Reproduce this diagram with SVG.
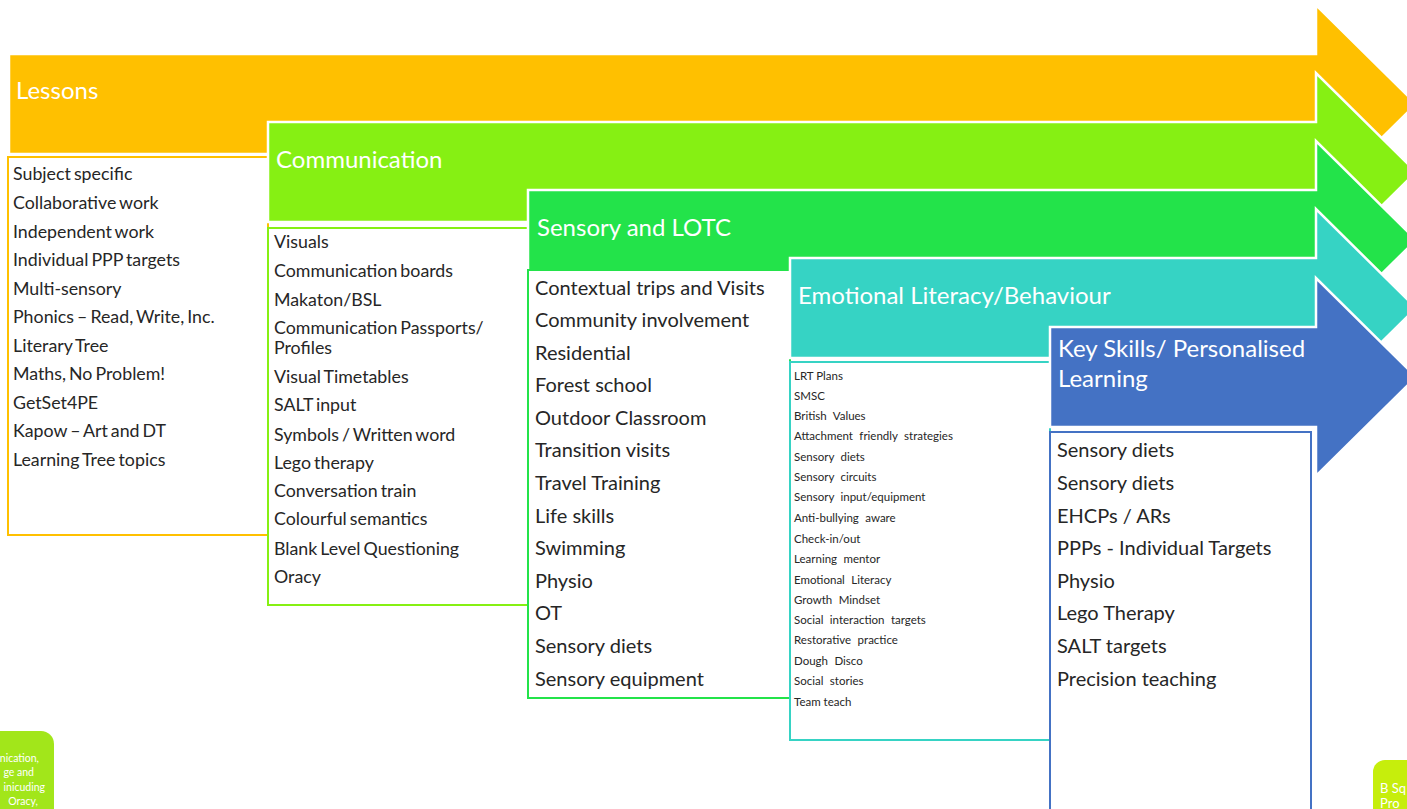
<svg xmlns="http://www.w3.org/2000/svg" width="1407" height="809" viewBox="0 0 1407 809">
<style>
.arrow{stroke:#fff;stroke-width:2.5;stroke-linejoin:miter}
.hdr{font-family:Lato,"Liberation Sans",sans-serif;fill:#fff;font-size:24px}
.box{fill:#fff;stroke-width:2}
.l16{font-family:Lato,"Liberation Sans",sans-serif;fill:#262626;font-size:17.8px;word-spacing:-1.5px}
.l20{font-family:Lato,"Liberation Sans",sans-serif;fill:#262626;font-size:20px}
.l11{font-family:Lato,"Liberation Sans",sans-serif;fill:#262626;font-size:11.5px;word-spacing:3.5px}
.sm{font-family:Lato,"Liberation Sans",sans-serif;fill:#fff;font-size:10.5px}
</style>
<rect width="1407" height="809" fill="#fff"/>
<g id="connectors"></g>
<g id="lessons">
<path class="arrow" fill="#FFC000" d="M9,54 H1316 V5 L1416,104 L1316,203 V154 H9 Z"/>
<text class="hdr" x="16" y="99">Lessons</text>
<rect class="box" stroke="#FFC000" x="8" y="157" width="260" height="378"/>
<g class="l16">
<text x="13" y="180">Subject specific</text>
<text x="13" y="209">Collaborative work</text>
<text x="13" y="238">Independent work</text>
<text x="13" y="266">Individual PPP targets</text>
<text x="13" y="295">Multi-sensory</text>
<text x="13" y="323">Phonics – Read, Write, Inc.</text>
<text x="13" y="352">Literary Tree</text>
<text x="13" y="380">Maths, No Problem!</text>
<text x="13" y="409">GetSet4PE</text>
<text x="13" y="437">Kapow – Art and DT</text>
<text x="13" y="466">Learning Tree topics</text>
</g>
</g>
<g id="communication">
<path class="arrow" fill="#86F013" d="M268,122 H1316 V73 L1416,172 L1316,271 V222 H268 Z"/>
<text class="hdr" x="276" y="168">Communication</text>
<rect class="box" stroke="#86F013" x="268" y="228" width="260" height="377"/>
<g class="l16">
<text x="274" y="248">Visuals</text>
<text x="274" y="277">Communication boards</text>
<text x="274" y="306">Makaton/BSL</text>
<text x="274" y="334">Communication Passports/</text>
<text x="274" y="354">Profiles</text>
<text x="274" y="383">Visual Timetables</text>
<text x="274" y="411">SALT input</text>
<text x="274" y="441">Symbols / Written word</text>
<text x="274" y="469">Lego therapy</text>
<text x="274" y="497">Conversation train</text>
<text x="274" y="525">Colourful semantics</text>
<text x="274" y="555">Blank Level Questioning</text>
<text x="274" y="583">Oracy</text>
</g>
</g>
<g id="sensory">
<path class="arrow" fill="#23E34A" d="M528,190 H1316 V141 L1416,240 L1316,339 V290 H528 Z"/>
<text class="hdr" x="537" y="236">Sensory and LOTC</text>
<rect class="box" stroke="#23E34A" x="528" y="270" width="262" height="428"/>
<g class="l20">
<text x="535" y="295">Contextual trips and Visits</text>
<text x="535" y="327">Community involvement</text>
<text x="535" y="360">Residential</text>
<text x="535" y="392">Forest school</text>
<text x="535" y="425">Outdoor Classroom</text>
<text x="535" y="457">Transition visits</text>
<text x="535" y="490">Travel Training</text>
<text x="535" y="523">Life skills</text>
<text x="535" y="555">Swimming</text>
<text x="535" y="588">Physio</text>
<text x="535" y="620">OT</text>
<text x="535" y="653">Sensory diets</text>
<text x="535" y="686">Sensory equipment</text>
</g>
</g>
<g id="emotional">
<path class="arrow" fill="#36D3C4" d="M790,258 H1316 V209 L1416,308 L1316,407 V358 H790 Z"/>
<text class="hdr" x="798" y="304">Emotional Literacy/Behaviour</text>
<rect class="box" stroke="#36D3C4" x="790" y="362" width="260" height="378"/>
<g class="l11">
<text x="794" y="380" style="word-spacing:0">LRT Plans</text>
<text x="794" y="400">SMSC</text>
<text x="794" y="420">British Values</text>
<text x="794" y="440">Attachment friendly strategies</text>
<text x="794" y="461">Sensory diets</text>
<text x="794" y="481">Sensory circuits</text>
<text x="794" y="501">Sensory input/equipment</text>
<text x="794" y="522">Anti-bullying aware</text>
<text x="794" y="543">Check-in/out</text>
<text x="794" y="563">Learning mentor</text>
<text x="794" y="584">Emotional Literacy</text>
<text x="794" y="604">Growth Mindset</text>
<text x="794" y="624">Social interaction targets</text>
<text x="794" y="644">Restorative practice</text>
<text x="794" y="665">Dough Disco</text>
<text x="794" y="685">Social stories</text>
<text x="794" y="706" style="word-spacing:0">Team teach</text>
</g>
</g>
<g id="keyskills">
<path class="arrow" fill="#4472C4" d="M1050,327 H1316 V278 L1416,377 L1316,476 V427 H1050 Z"/>
<text class="hdr" x="1058" y="357">Key Skills/ Personalised</text>
<text class="hdr" x="1058" y="387">Learning</text>
<rect class="box" stroke="#4472C4" x="1050" y="432" width="261" height="390"/>
<g class="l20">
<text x="1057" y="457">Sensory diets</text>
<text x="1057" y="490">Sensory diets</text>
<text x="1057" y="523">EHCPs / ARs</text>
<text x="1057" y="555">PPPs - Individual Targets</text>
<text x="1057" y="588">Physio</text>
<text x="1057" y="620">Lego Therapy</text>
<text x="1057" y="653">SALT targets</text>
<text x="1057" y="686">Precision teaching</text>
</g>
</g>
<g id="note-left">
<rect x="-30" y="731" width="84" height="110" rx="13" fill="#A2E61A"/>
<g class="sm" text-anchor="end">
<text x="39" y="762">nication,</text>
<text x="34" y="776">ge and</text>
<text x="45" y="791">inicuding</text>
<text x="38" y="805">Oracy,</text>
</g>
</g>
<g id="note-right">
<rect x="1373" y="760" width="60" height="80" rx="12" fill="#C6EE0C"/>
<text class="sm" style="font-size:13px" x="1380" y="793">B Sq</text>
<text class="sm" style="font-size:13px" x="1380" y="808">Pro</text>
</g>
</svg>
